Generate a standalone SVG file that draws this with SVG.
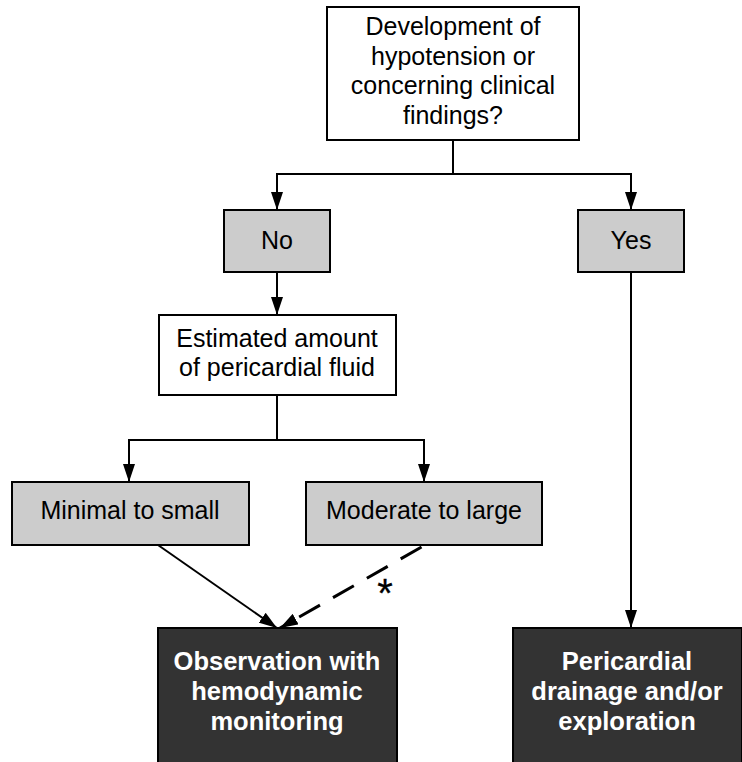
<svg xmlns="http://www.w3.org/2000/svg" width="742" height="762" viewBox="0 0 742 762">
<style>
.box{stroke:#000;stroke-width:2}
.w{fill:#fff}.g{fill:#cccccc}.d{fill:#333333}
text{font-family:"Liberation Sans",Arial,sans-serif;font-size:25px;text-anchor:middle;fill:#000}
.b{font-weight:bold;fill:#fff;font-size:25.5px}
.c{fill:none;stroke:#000;stroke-width:2}
.dash{stroke-width:3;stroke-dasharray:24,15;stroke-dashoffset:-4}
.ast{font-size:40px;stroke:#000;stroke-width:0.3}
</style>
<defs>
<marker id="ah" markerWidth="18" markerHeight="12" refX="18" refY="6" viewBox="0 0 18 12" markerUnits="userSpaceOnUse" orient="auto">
<path d="M0,0 L18,6 L0,12 Z" fill="#000"/>
</marker>
</defs>
<g id="connectors">
<polyline class="c" points="453,140 453,174"/>
<polyline class="c" points="453,174 277,174 277,210" marker-end="url(#ah)"/>
<polyline class="c" points="453,174 631,174 631,210" marker-end="url(#ah)"/>
<line class="c" x1="277" y1="272" x2="277" y2="315" marker-end="url(#ah)"/>
<polyline class="c" points="277,395 277,440"/>
<polyline class="c" points="277,440 129,440 129,482" marker-end="url(#ah)"/>
<polyline class="c" points="277,440 424,440 424,482" marker-end="url(#ah)"/>
<line class="c" x1="631" y1="272" x2="631" y2="628" marker-end="url(#ah)"/>
<line class="c" x1="158" y1="545" x2="277" y2="628" marker-end="url(#ah)"/>
<line class="c dash" x1="425" y1="545" x2="280" y2="628" marker-end="url(#ah)"/>
<text class="ast" x="385" y="607">*</text>
</g>
<g id="n_question">
<rect class="box w" x="327" y="7" width="252" height="133"/>
<text x="453" y="35">Development of</text>
<text x="453" y="64.5">hypotension or</text>
<text x="453" y="94">concerning clinical</text>
<text x="453" y="123.5">findings?</text>
</g>
<g id="n_no">
<rect class="box g" x="224" y="210" width="106" height="62"/>
<text x="277" y="249">No</text>
</g>
<g id="n_yes">
<rect class="box g" x="578" y="210" width="106" height="62"/>
<text x="631" y="249">Yes</text>
</g>
<g id="n_estimated">
<rect class="box w" x="159" y="315" width="237" height="80"/>
<text x="277" y="347">Estimated amount</text>
<text x="277" y="376">of pericardial fluid</text>
</g>
<g id="n_minimal">
<rect class="box g" x="12" y="482" width="237" height="63"/>
<text x="130" y="519">Minimal to small</text>
</g>
<g id="n_moderate">
<rect class="box g" x="306" y="482" width="236" height="63"/>
<text x="424" y="519">Moderate to large</text>
</g>
<g id="n_observation">
<rect class="box d" x="158" y="628" width="239" height="135"/>
<text class="b" x="277" y="670">Observation with</text>
<text class="b" x="277" y="700">hemodynamic</text>
<text class="b" x="277" y="730">monitoring</text>
</g>
<g id="n_drainage">
<rect class="box d" x="513" y="628" width="229" height="135"/>
<text class="b" x="627" y="670">Pericardial</text>
<text class="b" x="627" y="700">drainage and/or</text>
<text class="b" x="627" y="730">exploration</text>
</g>
</svg>
